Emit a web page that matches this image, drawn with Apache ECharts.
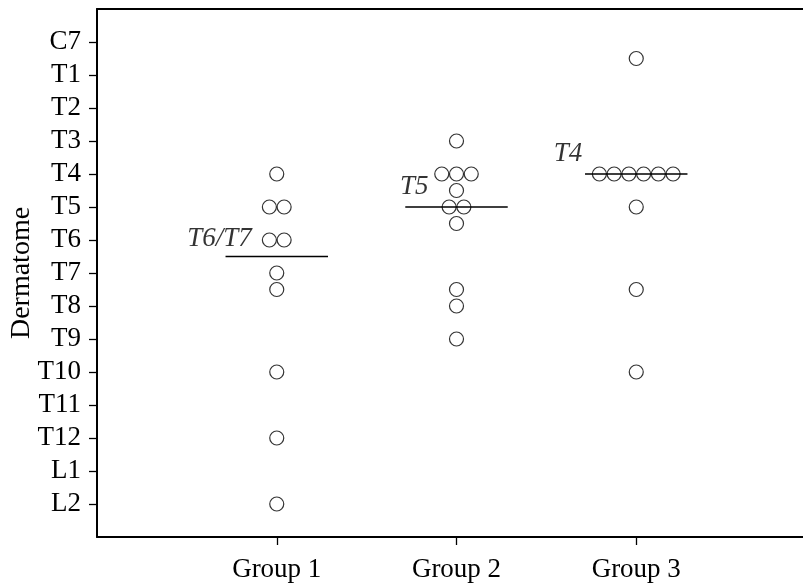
<!DOCTYPE html>
<html>
<head>
<meta charset="utf-8">
<script src="https://cdn.jsdelivr.net/npm/echarts@6/dist/echarts.min.js"></script>
<style>
html,body{margin:0;padding:0;background:#fff;overflow:hidden;}
#chart{width:830px;height:588px;}
</style>
</head>
<body>
<div id="chart"></div>
<script>
// ---- data ----
const groups = ['Group 1', 'Group 2', 'Group 3'];
const dermatomes = ['C7','T1','T2','T3','T4','T5','T6','T7','T8','T9','T10','T11','T12','L1','L2'];
// dermatome level index (0 = C7 ... 14 = L2); .5 = between two levels
const group1 = [4, 5, 5, 6, 6, 7, 7.5, 10, 12, 14];
const group2 = [3, 4, 4, 4, 4.5, 5, 5, 5.5, 7.5, 8, 9];
const group3 = [0.5, 4, 4, 4, 4, 4, 4, 5, 7.5, 10];
const medians = [6.5, 5, 4];
const medianLabels = ['T6/T7', 'T5', 'T4'];

// ---- layout helpers ----
const SLOT = 0.082;      // horizontal spacing of stacked dots (x units)
const HALF = 0.285;      // half-length of median line (x units)
const labelOffsets = [[-6, -18], [9, -20], [-17, -20]];

function swarm(values, gi) {
  const cx = gi + 1;
  const counts = {};
  values.forEach(v => { counts[v] = (counts[v] || 0) + 1; });
  const seen = {};
  return values.map(v => {
    const n = counts[v];
    const k = seen[v] = (seen[v] === undefined ? 0 : seen[v] + 1);
    return [cx + (k - (n - 1) / 2) * SLOT, v];
  });
}
const allPoints = [].concat(swarm(group1, 0), swarm(group2, 1), swarm(group3, 2));

const lineData = [];
medians.forEach((m, i) => {
  lineData.push([i + 1 - HALF, m], [i + 1 + HALF, m]);
  if (i < medians.length - 1) lineData.push('-');
});
const labelData = medians.map((m, i) => ({
  value: [i + 1 - HALF, m],
  label: { formatter: medianLabels[i], offset: labelOffsets[i] }
}));

const FONT = '"Liberation Serif", "Times New Roman", serif';
const chart = echarts.init(document.getElementById('chart'), null, { renderer: 'canvas' });
chart.setOption({
  animation: false,
  backgroundColor: '#fff',
  grid: {
    left: 97, top: 9, bottom: 51, right: 14,
    outerBoundsMode: 'none', containLabel: false, show: false
  },
  xAxis: [{
    type: 'value', min: 0, max: 4, interval: 1, position: 'bottom',
    splitLine: { show: false },
    axisLine: { show: true, onZero: false, lineStyle: { color: '#000', width: 2 } },
    axisTick: { show: true, customValues: [1, 2, 3], length: 8, lineStyle: { color: '#000', width: 1.3 } },
    axisLabel: {
      customValues: [1, 2, 3],
      formatter: v => groups[Math.round(v) - 1] || '',
      color: '#000', fontFamily: FONT, fontSize: 27, margin: 19
    }
  }, {
    type: 'value', min: 0, max: 4, position: 'top',
    splitLine: { show: false },
    axisLine: { show: true, onZero: false, lineStyle: { color: '#000', width: 2 } },
    axisTick: { show: false }, axisLabel: { show: false }
  }],
  yAxis: {
    type: 'value', min: -1, max: 15, interval: 1, inverse: true, position: 'left',
    name: 'Dermatome', nameLocation: 'middle', nameGap: 61, nameRotate: 90,
    nameMoveOverlap: false,
    nameTextStyle: { color: '#000', fontFamily: FONT, fontSize: 28 },
    splitLine: { show: false },
    axisLine: { show: true, onZero: false, lineStyle: { color: '#000', width: 2 } },
    axisTick: { show: true, customValues: dermatomes.map((d, i) => i), length: 8, lineStyle: { color: '#000', width: 1.3 } },
    axisLabel: {
      customValues: dermatomes.map((d, i) => i),
      formatter: v => dermatomes[Math.round(v)] || '',
      color: '#000', fontFamily: FONT, fontSize: 27, margin: 16
    }
  },
  series: [
    {
      type: 'line', data: lineData, symbol: 'none', connectNulls: false,
      lineStyle: { color: '#000', width: 1.4 }, z: 2
    },
    {
      type: 'scatter', data: allPoints, symbol: 'circle', symbolSize: 14,
      itemStyle: { color: 'rgba(0,0,0,0)', borderColor: '#000', borderWidth: 1.2 }, z: 3
    },
    {
      type: 'scatter', data: labelData, symbolSize: 0.01,
      itemStyle: { color: 'rgba(0,0,0,0)' },
      label: {
        show: true, position: 'inside', color: '#000',
        fontFamily: FONT, fontStyle: 'italic', fontSize: 27
      }, z: 4
    }
  ]
});
</script>
</body>
</html>
